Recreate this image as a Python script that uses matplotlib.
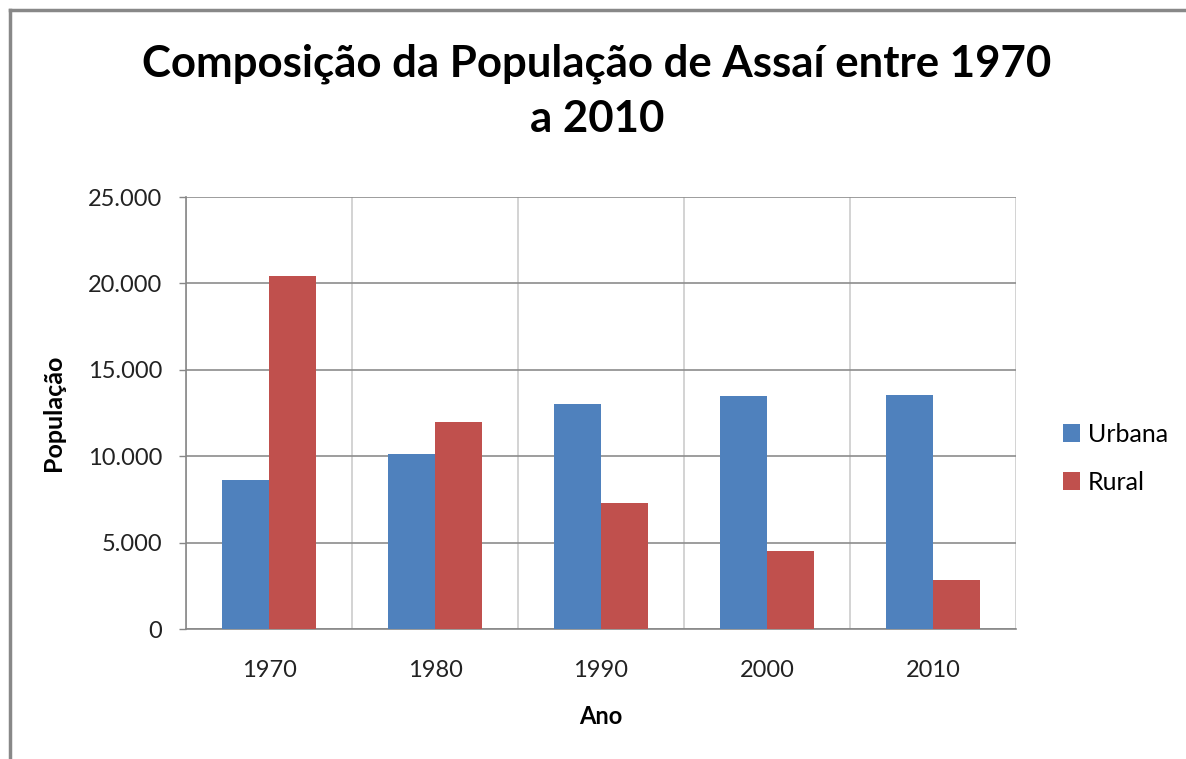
import matplotlib.pyplot as plt
from matplotlib.ticker import FuncFormatter, FixedLocator
from matplotlib.lines import Line2D
import numpy as np

plt.rcParams['font.family'] = ['Lato', 'DejaVu Sans']

# dados
anos = ['1970', '1980', '1990', '2000', '2010']
urbana = [8600, 10100, 13000, 13500, 13550]
rural = [20450, 12000, 7320, 4500, 2830]

fig = plt.figure(figsize=(11.86, 7.59), dpi=100)
ax = fig.add_axes([186/1186, 1-629/759, (1016-186)/1186, (629-197)/759])

x = np.arange(len(anos))
w = 0.283
ax.bar(x - w/2, urbana, w, color='#4F81BD', label='Urbana', zorder=3)
ax.bar(x + w/2, rural, w, color='#C0504D', label='Rural', zorder=3)

ax.set_xlim(-0.5, len(anos) - 0.5)
ax.set_ylim(0, 25000)
ax.set_yticks(np.arange(0, 25001, 5000))
ax.yaxis.set_major_formatter(FuncFormatter(lambda v, p: f'{int(v):,}'.replace(',', '.')))
ax.set_xticks(x)
ax.set_xticklabels(anos)
ax.xaxis.set_minor_locator(FixedLocator(np.arange(-0.5, len(anos), 1)))

ax.tick_params(axis='y', length=5, width=1, color='#878787', labelsize=17, labelcolor='#222222', pad=12)
ax.tick_params(axis='x', which='both', length=0, labelsize=17, labelcolor='#222222', pad=22)

ax.grid(axis='y', which='major', color='#8c8c8c', linewidth=1.2, zorder=0)
ax.grid(axis='x', which='minor', color='#cccccc', linewidth=1.2, zorder=0)

for s in ['top', 'right']:
    ax.spines[s].set_visible(False)
ax.spines['left'].set_color('#878787')
ax.spines['bottom'].set_color('#878787')
ax.spines['left'].set_linewidth(1.2)
ax.spines['bottom'].set_linewidth(1.2)

ax.set_ylabel('População', fontsize=18, fontweight='bold')
ax.yaxis.set_label_coords(65/1186, 1-413/759, transform=fig.transFigure)
ax.set_xlabel('Ano', fontsize=17, fontweight='bold')
ax.xaxis.set_label_coords(601/1186, 1-705/759, transform=fig.transFigure)

fig.text(597/1186, 1-91/759, 'Composição da População de Assaí entre 1970\na 2010',
         ha='center', va='center', fontsize=31.5, fontweight='bold', linespacing=1.45)

leg = ax.legend(loc='center left', bbox_to_anchor=(1050/1186, 1-458/759),
                bbox_transform=fig.transFigure, frameon=False, fontsize=18,
                handlelength=0.7, handleheight=0.7, handletextpad=0.3,
                labelspacing=1.0, borderpad=0)

# moldura do grafico (parcialmente cortada)
fig.add_artist(Line2D([9.5/1186, 9.5/1186], [0, 1-10/759], color='#888888', linewidth=2.5))
fig.add_artist(Line2D([9.5/1186, 1], [1-10/759, 1-10/759], color='#888888', linewidth=2.5))

fig.savefig('out.png', dpi=100)
